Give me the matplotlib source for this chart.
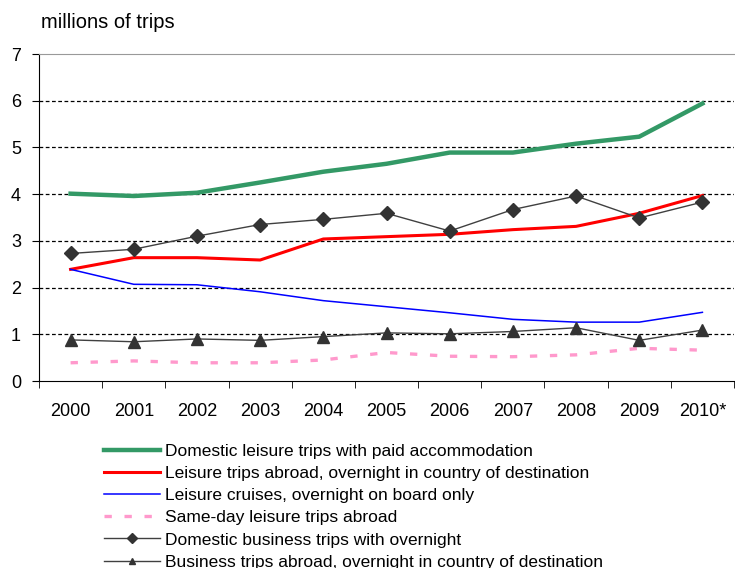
import matplotlib.pyplot as plt
import numpy as np

plt.rcParams['font.family'] = ['Liberation Sans', 'DejaVu Sans']

years = ["2000", "2001", "2002", "2003", "2004", "2005", "2006", "2007", "2008", "2009", "2010*"]

domestic_leisure = [4.01, 3.96, 4.03, 4.25, 4.48, 4.65, 4.89, 4.89, 5.08, 5.23, 5.94]
leisure_abroad = [2.39, 2.64, 2.64, 2.59, 3.04, 3.09, 3.14, 3.24, 3.31, 3.59, 3.97]
leisure_cruises = [2.39, 2.07, 2.06, 1.91, 1.72, 1.59, 1.46, 1.32, 1.26, 1.26, 1.47]
sameday_abroad = [0.39, 0.43, 0.39, 0.39, 0.45, 0.61, 0.53, 0.52, 0.56, 0.70, 0.66]
domestic_business = [2.73, 2.82, 3.10, 3.35, 3.46, 3.59, 3.21, 3.67, 3.96, 3.49, 3.83]
business_abroad = [0.88, 0.84, 0.90, 0.87, 0.95, 1.03, 1.01, 1.06, 1.14, 0.87, 1.09]


def main():
    fig = plt.figure(figsize=(7.35, 5.68), dpi=100)
    ax = fig.add_axes([39 / 735, 1 - 381 / 568, 695 / 735, 327 / 568])
    x = np.arange(len(years))

    ax.plot(x, domestic_leisure, color='#339966', lw=3.2,
            label="Domestic leisure trips with paid accommodation")
    ax.plot(x, leisure_abroad, color='#ff0000', lw=2.2,
            label="Leisure trips abroad, overnight in country of destination")
    ax.plot(x, leisure_cruises, color='#0000ff', lw=1.1,
            label="Leisure cruises, overnight on board only")
    ax.plot(x, sameday_abroad, color='#ff99cc', lw=2.4, dashes=(2.2, 3.8),
            label="Same-day leisure trips abroad")
    ax.plot(x, domestic_business, color='#404040', lw=1.0, marker='D',
            markersize=7.5, markerfacecolor='#333333', markeredgecolor='#333333',
            label="Domestic business trips with overnight")
    ax.plot(x, business_abroad, color='#404040', lw=1.0, marker='^',
            markersize=8.5, markerfacecolor='#333333', markeredgecolor='#333333',
            label="Business trips abroad, overnight in country of destination")

    ax.set_xlim(-0.5, 10.5)
    ax.set_ylim(0, 7)
    ax.set_yticks(range(0, 8))
    ax.set_xticks(x)
    ax.set_xticklabels(years)
    ax.set_xticks(np.arange(-0.5, 11, 1), minor=True)
    ax.tick_params(axis='x', which='major', length=0, pad=16, labelsize=13)
    ax.tick_params(axis='x', which='minor', length=5, direction='out')
    ax.tick_params(axis='y', length=5, direction='out', labelsize=13, pad=8)

    for v in range(1, 7):
        ax.axhline(v, color='black', lw=0.9, dashes=(3, 2), zorder=0)
    ax.spines['top'].set_color('#999999')
    ax.spines['right'].set_visible(False)

    fig.text(41 / 735, 1 - 22 / 568, "millions of trips", fontsize=14.5, va='center')

    leg = fig.legend(loc='upper left', bbox_to_anchor=(104 / 735, 1 - 444 / 568),
                     frameon=False, fontsize=12.5, handlelength=3.2,
                     handletextpad=0.3, labelspacing=0.4, borderpad=0,
                     borderaxespad=0)
    for h in leg.legend_handles:
        h.set_markersize(5)

    fig.savefig("out.png", dpi=100)


if __name__ == "__main__":
    main()
